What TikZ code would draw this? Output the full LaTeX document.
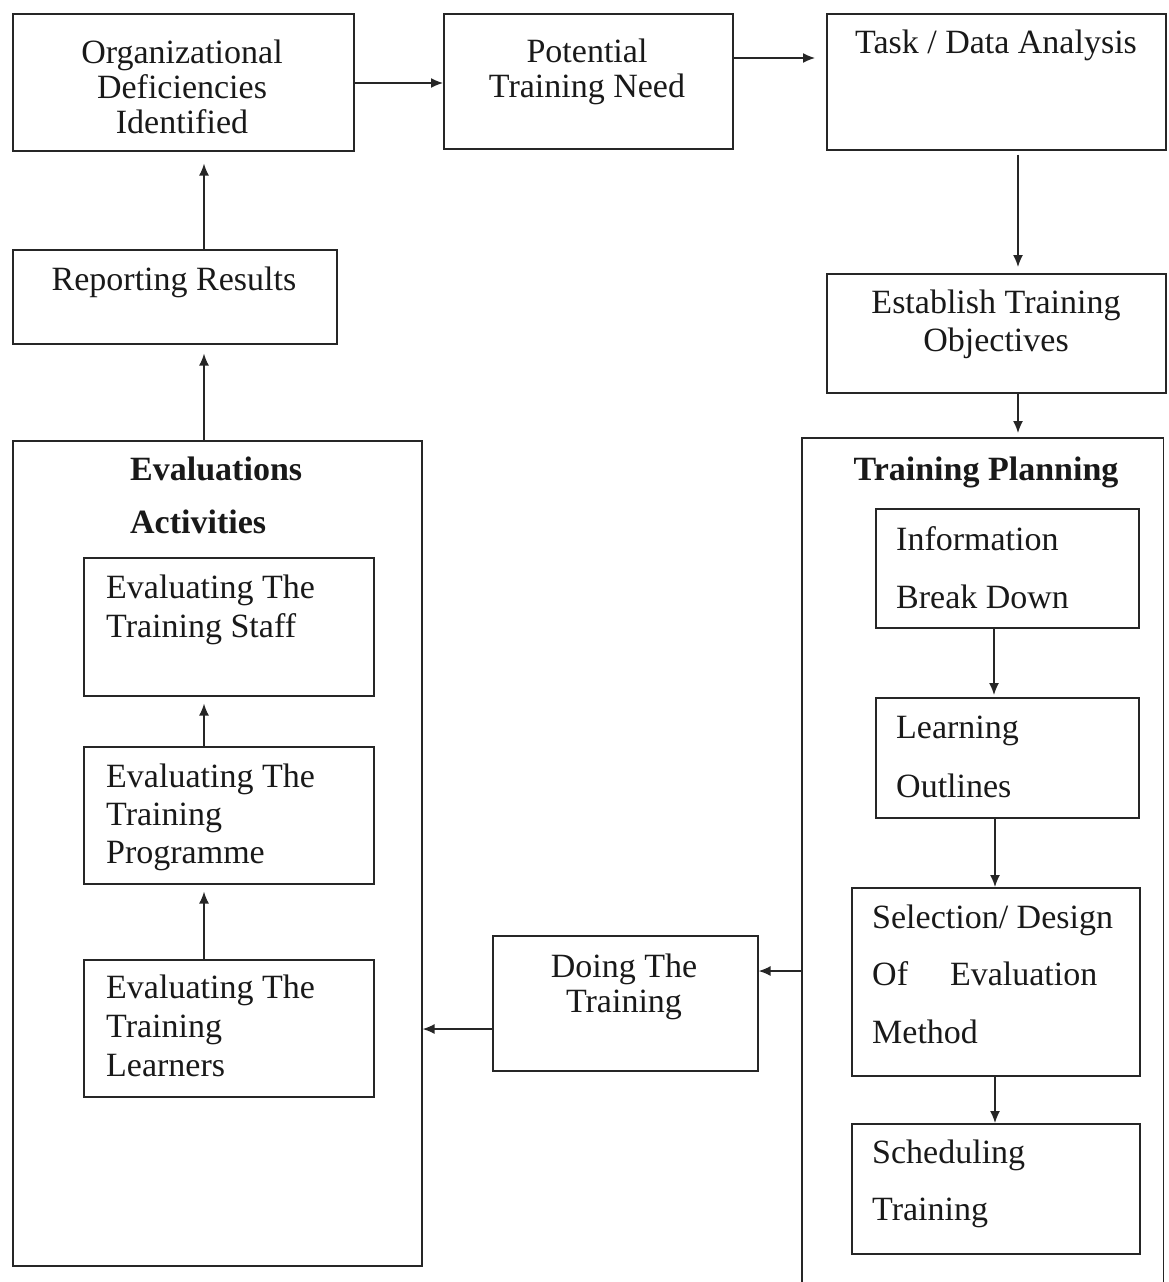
\documentclass[tikz,border=0pt]{standalone}
\usepackage{fontspec}
\setmainfont{Liberation Serif}
\usetikzlibrary{arrows.meta}
\begin{document}
\begin{tikzpicture}[x=1pt,y=-1pt,
  box/.style={draw=black!85, line width=1.6pt, anchor=north west, inner sep=0pt},
  arr/.style={draw=black!85, line width=1.4pt, -{Latex[length=12pt,width=10pt]}},
  txt/.style={inner sep=0pt, text=black!90},
  ctxt/.style={txt, anchor=base, align=center},
  ltxt/.style={txt, anchor=base west, align=left},
  pitch/.style={font=\fontsize{34}{#1}\selectfont},
  btitle/.style={font=\fontsize{34}{#1}\selectfont\bfseries}
]
\useasboundingbox (0,0) rectangle (1169,1282);

% boxes of the top row and the right column
\node[box, minimum width=341pt, minimum height=137pt] (org)  at (12,13)  {};
\node[box, minimum width=289pt, minimum height=135pt] (pot)  at (443,13) {};
\node[box, minimum width=339pt, minimum height=136pt] (task) at (826,13) {};
\node[box, minimum width=324pt, minimum height=94pt]  (rep)  at (12,249) {};
\node[box, minimum width=339pt, minimum height=119pt] (est)  at (826,273) {};

% training planning group (open at the bottom)
\node[box, draw=none, minimum width=360pt, minimum height=850pt] (plan) at (802,438) {};
\draw[draw=black!85, line width=1.6pt] (plan.south west) -- (plan.north west) -- (plan.north east) -- (plan.south east);
\node[box, minimum width=263pt, minimum height=119pt] (info)  at (875,508)  {};
\node[box, minimum width=263pt, minimum height=120pt] (learn) at (875,697)  {};
\node[box, minimum width=288pt, minimum height=188pt] (sel)   at (851,887)  {};
\node[box, minimum width=288pt, minimum height=130pt] (sched) at (851,1123) {};

% doing the training
\node[box, minimum width=265pt, minimum height=135pt] (doing) at (492,935) {};

% evaluation activities group
\node[box, minimum width=409pt, minimum height=825pt] (eval)     at (12,440) {};
\node[box, minimum width=290pt, minimum height=138pt] (staff)    at (83,557) {};
\node[box, minimum width=290pt, minimum height=137pt] (prog)     at (83,746) {};
\node[box, minimum width=290pt, minimum height=137pt] (learners) at (83,959) {};

% texts (each placed at the baseline of its last line)
\node[ctxt, pitch=35] (orgT)  at (182,133) {Organizational\\Deficiencies\\Identified};
\node[ctxt, pitch=35] (potT)  at (587,97)  {Potential\\Training Need};
\node[ctxt, pitch=35] (taskT) at (996,53)  {Task / Data Analysis};
\node[ctxt, pitch=35] (repT)  at (174,290) {Reporting Results};
\node[ctxt, pitch=38] (estT)  at (996,351) {Establish Training\\Objectives};
\node[ctxt, pitch=35] (doingT) at (624,1012) {Doing The\\Training};

\node[ctxt, btitle=40] (planT) at (986,480) {Training Planning};
\node[ltxt, pitch=58] (infoT)  at (896,608)  {Information\\Break Down};
\node[ltxt, pitch=59] (learnT) at (896,797)  {Learning\\Outlines};
\node[ltxt, pitch=57.5] (selT) at (872,1043) {Selection/ Design\\Of\hspace{42pt}Evaluation\\Method};
\node[ltxt, pitch=57] (schedT) at (872,1220) {Scheduling\\Training};

\node[ltxt, btitle=53] (evalT) at (130,533) {Evaluations\\Activities};
\node[ltxt, pitch=39] (staffT)    at (106,637)  {Evaluating The\\Training Staff};
\node[ltxt, pitch=38] (progT)     at (106,863)  {Evaluating The\\Training\\Programme};
\node[ltxt, pitch=39] (learnersT) at (106,1076) {Evaluating The\\Training\\Learners};

% connectors
\draw[arr] (org.east |- 0,83) -- (pot.west |- 0,83);
\draw[arr, shorten >=11pt] (pot.east |- 0,58) -- (task.west |- 0,58);
\draw[arr, shorten <=4pt, shorten >=6pt] (task.south -| 1018,0) -- (est.north -| 1018,0);
\draw[arr, shorten >=5pt] (est.south -| 1018,0) -- (plan.north -| 1018,0);
\draw[arr, shorten >=2pt] (info.south -| 994,0) -- (learn.north -| 994,0);
\draw[arr] (learn.south -| 995,0) -- (sel.north -| 995,0);
\draw[arr] (sel.south -| 995,0) -- (sched.north -| 995,0);
\draw[arr] (plan.west |- 0,971) -- (doing.east |- 0,971);
\draw[arr] (doing.west |- 0,1029) -- (eval.east |- 0,1029);
\draw[arr, shorten >=7pt] (learners.north -| 204,0) -- (prog.south -| 204,0);
\draw[arr, shorten >=7pt] (prog.north -| 204,0) -- (staff.south -| 204,0);
\draw[arr, shorten >=9pt] (eval.north -| 204,0) -- (rep.south -| 204,0);
\draw[arr, shorten >=12pt] (rep.north -| 204,0) -- (org.south -| 204,0);
\end{tikzpicture}
\end{document}
